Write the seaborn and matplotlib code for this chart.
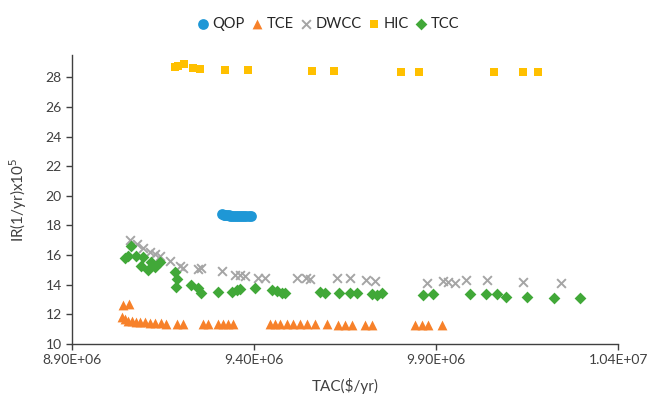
import numpy as np
import pandas as pd
import seaborn as sns
import matplotlib.pyplot as plt
from matplotlib.ticker import FuncFormatter

sns.set_style('ticks')
plt.rcParams['font.family'] = ['Lato', 'DejaVu Sans']

# TAC ($/yr) and IR (1/yr x10^5)
qop_tac = [9.312e6, 9.316e6, 9.320e6, 9.325e6, 9.330e6, 9.335e6, 9.340e6, 9.345e6,
           9.350e6, 9.355e6, 9.360e6, 9.366e6, 9.372e6, 9.378e6, 9.385e6, 9.392e6]
qop_ir = [18.74, 18.72, 18.70, 18.69, 18.68, 18.67, 18.67, 18.66,
          18.66, 18.65, 18.65, 18.65, 18.64, 18.64, 18.64, 18.64]

tce_tac = [9.040e6, 9.057e6, 9.037e6, 9.046e6, 9.054e6, 9.065e6, 9.076e6, 9.087e6,
           9.101e6, 9.114e6, 9.128e6, 9.145e6, 9.158e6, 9.188e6, 9.205e6, 9.260e6,
           9.274e6, 9.301e6, 9.315e6, 9.329e6, 9.342e6, 9.444e6, 9.458e6, 9.472e6,
           9.491e6, 9.507e6, 9.526e6, 9.545e6, 9.567e6, 9.601e6, 9.631e6, 9.650e6,
           9.669e6, 9.705e6, 9.724e6, 9.842e6, 9.862e6, 9.878e6, 9.917e6]
tce_ir = [12.63, 12.70, 11.82, 11.69, 11.55, 11.52, 11.48, 11.48,
          11.46, 11.42, 11.42, 11.40, 11.35, 11.35, 11.35, 11.35,
          11.35, 11.35, 11.35, 11.35, 11.35, 11.35, 11.35, 11.35,
          11.35, 11.35, 11.35, 11.35, 11.35, 11.35, 11.30, 11.30,
          11.30, 11.30, 11.30, 11.30, 11.30, 11.30, 11.30]

dwcc_tac = [9.059e6, 9.079e6, 9.095e6, 9.114e6, 9.128e6, 9.142e6, 9.169e6, 9.197e6,
            9.205e6, 9.246e6, 9.254e6, 9.312e6, 9.348e6, 9.362e6, 9.375e6, 9.411e6,
            9.430e6, 9.518e6, 9.543e6, 9.554e6, 9.628e6, 9.664e6, 9.708e6, 9.732e6,
            9.875e6, 9.919e6, 9.933e6, 9.952e6, 9.982e6, 10.040e6, 10.139e6, 10.243e6]
dwcc_ir = [17.01, 16.74, 16.47, 16.20, 16.07, 15.93, 15.60, 15.26,
           15.12, 15.06, 15.12, 14.92, 14.65, 14.65, 14.59, 14.45,
           14.45, 14.45, 14.45, 14.38, 14.45, 14.45, 14.32, 14.25,
           14.11, 14.25, 14.18, 14.11, 14.32, 14.32, 14.18, 14.11]

hic_tac = [9.183e6, 9.192e6, 9.206e6, 9.233e6, 9.252e6, 9.320e6, 9.384e6,
           9.558e6, 9.618e6, 9.803e6, 9.853e6, 10.060e6, 10.138e6, 10.181e6]
hic_ir = [28.66, 28.75, 28.88, 28.63, 28.56, 28.52, 28.46,
          28.39, 28.39, 28.34, 28.34, 28.34, 28.34, 28.34]

tcc_tac = [9.046e6, 9.054e6, 9.062e6, 9.076e6, 9.090e6, 9.095e6, 9.109e6, 9.117e6,
           9.128e6, 9.142e6, 9.183e6, 9.188e6, 9.186e6, 9.227e6, 9.246e6, 9.254e6,
           9.301e6, 9.340e6, 9.353e6, 9.362e6, 9.403e6, 9.449e6, 9.463e6, 9.477e6,
           9.485e6, 9.581e6, 9.595e6, 9.634e6, 9.664e6, 9.683e6, 9.724e6, 9.738e6,
           9.752e6, 9.864e6, 9.892e6, 9.993e6, 10.037e6, 10.068e6, 10.092e6, 10.150e6,
           10.224e6, 10.296e6]
tcc_ir = [15.80, 15.93, 16.61, 15.93, 15.26, 15.87, 14.99, 15.53,
          15.19, 15.53, 14.86, 14.38, 13.84, 13.98, 13.78, 13.44,
          13.51, 13.51, 13.64, 13.71, 13.78, 13.64, 13.57, 13.44,
          13.44, 13.51, 13.44, 13.44, 13.44, 13.44, 13.37, 13.30,
          13.44, 13.30, 13.37, 13.37, 13.37, 13.37, 13.17, 13.17,
          13.10, 13.10]

x_ticks = [8.9e6, 9.4e6, 9.9e6, 1.04e7]
y_ticks = [10, 12, 14, 16, 18, 20, 22, 24, 26, 28]

series = [
    ("QOP", qop_tac, qop_ir, "o", "#1E97D6", 60),
    ("TCE", tce_tac, tce_ir, "^", "#F7812A", 50),
    ("DWCC", dwcc_tac, dwcc_ir, "x", "#A5A5A5", 40),
    ("HIC", hic_tac, hic_ir, "s", "#FFC000", 40),
    ("TCC", tcc_tac, tcc_ir, "D", "#41A838", 36),
]

fig = plt.figure(figsize=(6.5, 4), dpi=100)
ax = fig.add_axes([0.111, 0.14, 0.84, 0.7225])

for name, tac, ir, marker, color, size in series:
    df = pd.DataFrame({"TAC": tac, "IR": ir})
    if marker == "x":
        sns.scatterplot(data=df, x="TAC", y="IR", marker=marker, color=color,
                        s=size, linewidth=1.4, label=name, ax=ax)
    else:
        sns.scatterplot(data=df, x="TAC", y="IR", marker=marker, color=color,
                        s=size, linewidth=0, label=name, ax=ax)

ax.set_xlim(8.9e6, 1.04e7)
ax.set_ylim(10, 29.5)
ax.set_xticks(x_ticks)
ax.set_yticks(y_ticks)
ax.xaxis.set_major_formatter(FuncFormatter(lambda v, p: "{:.2E}".format(v)))
ax.yaxis.set_major_formatter(FuncFormatter(lambda v, p: "{:.0f}".format(v)))

sns.despine(ax=ax)
for side in ["left", "bottom"]:
    ax.spines[side].set_color("#404040")
    ax.spines[side].set_linewidth(1.0)
ax.tick_params(axis="both", colors="#404040", labelcolor="#404040",
               labelsize=10, length=4, width=1.0, direction="out")

ax.set_xlabel("TAC($/yr)", fontsize=11, color="#404040", labelpad=8)
ax.set_ylabel("IR(1/yr)x10$^5$", fontsize=11, color="#404040", labelpad=12)

handles, labels = ax.get_legend_handles_labels()
ax.get_legend().remove()
fig.legend(handles, labels, loc="upper center", bbox_to_anchor=(0.505, 0.99),
           ncol=5, frameon=False, fontsize=10.5, handlelength=0.7,
           handletextpad=0.3, columnspacing=0.5, labelcolor="#262626")

fig.savefig("out.png", dpi=100)
